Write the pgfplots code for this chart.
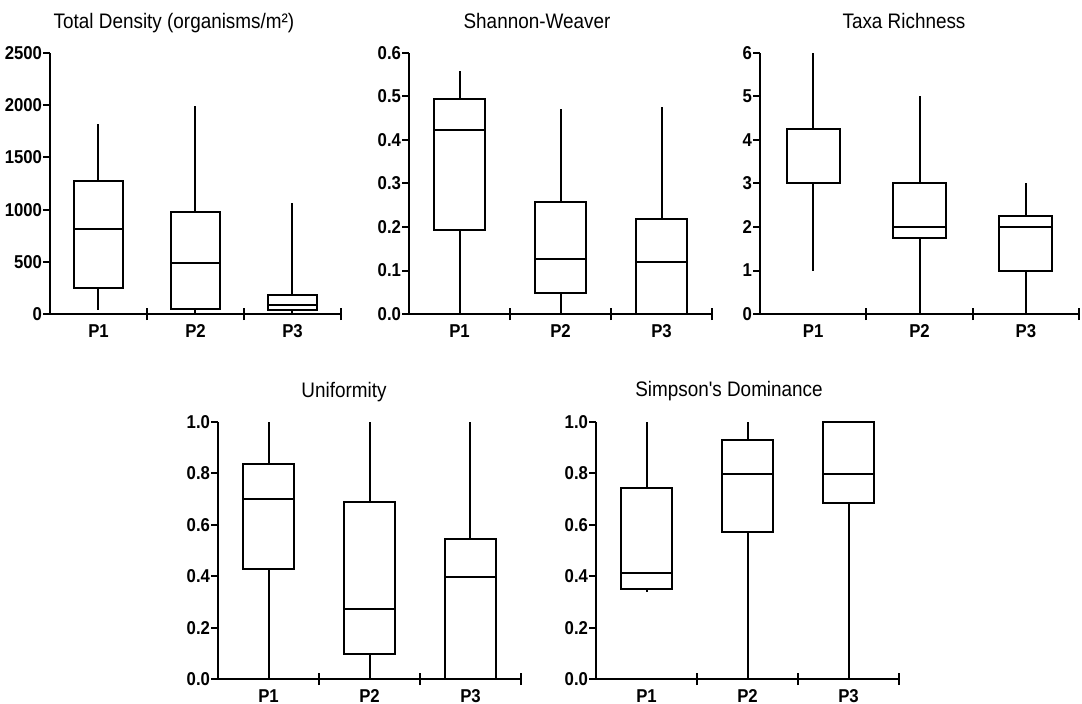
\documentclass[border=0pt]{standalone}
\usepackage{fontspec}
\setmainfont{Liberation Sans}
\newfontfamily\narrowsans[FakeStretch=0.9]{Liberation Sans}
\usepackage{pgfplots}
\pgfplotsset{compat=1.18}
\usepgfplotslibrary{statistics}

\pgfplotsset{
 panel/.style={
  scale only axis, anchor=south west,
  axis lines*=left, axis line style={black, line width=1pt},
  xmin=0.5, xmax=3.5, xtick={1,2,3}, xticklabels={P1,P2,P3},
  major x tick style={draw=none},
  minor xtick={1.5,2.5,3.5}, minor tick length=6pt, xtick align=center,
  ytick align=outside, major tick length=3.5pt,
  tick style={black, line width=1pt},
  ymin=0, clip=false,
  /pgf/number format/assume math mode=true,
  tick label style={font=\narrowsans\bfseries\fontsize{9.3}{10}\selectfont},
  yticklabel style={inner xsep=0pt, xshift=-0.3pt},
  xticklabel style={inner ysep=0pt, anchor=base, yshift=-10.2pt},
  boxplot/draw direction=y,
  boxplot/box extend=0.5, boxplot/whisker extend=0,
 },
 bx/.style={black, line width=1pt, solid},
 dec1/.style={yticklabel style={/pgf/number format/.cd, fixed, fixed zerofill, precision=1}},
}
\newcommand{\ttl}{\narrowsans\fontsize{10.5}{12}\selectfont}

\begin{document}
\begin{tikzpicture}
\useasboundingbox (0,0) rectangle (541pt,351.5pt);

% Total Density
\begin{axis}[panel, at={(25pt,194.5pt)}, width=145.5pt, height=130.5pt,
  ymax=2500, ytick={0,500,1000,1500,2000,2500},
  /pgf/number format/set thousands separator={}]
\addplot[bx, boxplot prepared={draw position=1, lower whisker=41, lower quartile=252, median=817, upper quartile=1277, upper whisker=1820}] coordinates {};
\addplot[bx, boxplot prepared={draw position=2, lower whisker=0, lower quartile=48, median=488, upper quartile=977, upper whisker=1995}] coordinates {};
\addplot[bx, boxplot prepared={draw position=3, lower whisker=0, lower quartile=35, median=83, upper quartile=179, upper whisker=1063}] coordinates {};
\end{axis}

% Shannon-Weaver
\begin{axis}[panel, dec1, at={(204.5pt,194.5pt)}, width=151.5pt, height=130.5pt,
  ymax=0.6, ytick={0,0.1,0.2,0.3,0.4,0.5,0.6}]
\addplot[bx, boxplot prepared={draw position=1, lower whisker=0, lower quartile=0.192, median=0.422, upper quartile=0.494, upper whisker=0.558}] coordinates {};
\addplot[bx, boxplot prepared={draw position=2, lower whisker=0, lower quartile=0.048, median=0.127, upper quartile=0.257, upper whisker=0.471}] coordinates {};
\addplot[bx, boxplot prepared={draw position=3, lower whisker=0, lower quartile=0, median=0.119, upper quartile=0.218, upper whisker=0.476}] coordinates {};
\end{axis}

% Taxa Richness
\begin{axis}[panel, at={(380pt,194.5pt)}, width=159.5pt, height=130.5pt,
  ymax=6, ytick={0,1,2,3,4,5,6}]
\addplot[bx, boxplot prepared={draw position=1, lower whisker=1, lower quartile=3, median=3, upper quartile=4.25, upper whisker=6}] coordinates {};
\addplot[bx, boxplot prepared={draw position=2, lower whisker=0, lower quartile=1.75, median=2, upper quartile=3, upper whisker=5}] coordinates {};
\addplot[bx, boxplot prepared={draw position=3, lower whisker=0, lower quartile=1, median=2, upper quartile=2.25, upper whisker=3}] coordinates {};
\end{axis}

% Uniformity
\begin{axis}[panel, dec1, at={(109pt,12pt)}, width=151.5pt, height=128.5pt,
  ymax=1, ytick={0,0.2,0.4,0.6,0.8,1}]
\addplot[bx, boxplot prepared={draw position=1, lower whisker=0, lower quartile=0.429, median=0.699, upper quartile=0.838, upper whisker=1}] coordinates {};
\addplot[bx, boxplot prepared={draw position=2, lower whisker=0, lower quartile=0.097, median=0.272, upper quartile=0.687, upper whisker=1}] coordinates {};
\addplot[bx, boxplot prepared={draw position=3, lower whisker=0, lower quartile=0, median=0.396, upper quartile=0.545, upper whisker=1}] coordinates {};
\end{axis}

% Simpson's Dominance
\begin{axis}[panel, dec1, at={(298pt,12pt)}, width=151.5pt, height=128.5pt,
  ymax=1, ytick={0,0.2,0.4,0.6,0.8,1}]
\addplot[bx, boxplot prepared={draw position=1, lower whisker=0.337, lower quartile=0.349, median=0.411, upper quartile=0.744, upper whisker=1}] coordinates {};
\addplot[bx, boxplot prepared={draw position=2, lower whisker=0, lower quartile=0.572, median=0.799, upper quartile=0.930, upper whisker=1}] coordinates {};
\addplot[bx, boxplot prepared={draw position=3, lower whisker=0, lower quartile=0.686, median=0.796, upper quartile=1, upper whisker=1}] coordinates {};
\end{axis}

\node[anchor=base, font=\ttl] at (87pt,337pt) {Total Density (organisms/m²)};
\node[anchor=base, font=\ttl] at (268.5pt,337pt) {Shannon-Weaver};
\node[anchor=base, font=\ttl] at (452pt,337pt) {Taxa Richness};
\node[anchor=base, font=\ttl] at (172pt,153pt) {Uniformity};
\node[anchor=base, font=\ttl] at (364.5pt,153.5pt) {Simpson's Dominance};
\end{tikzpicture}
\end{document}
